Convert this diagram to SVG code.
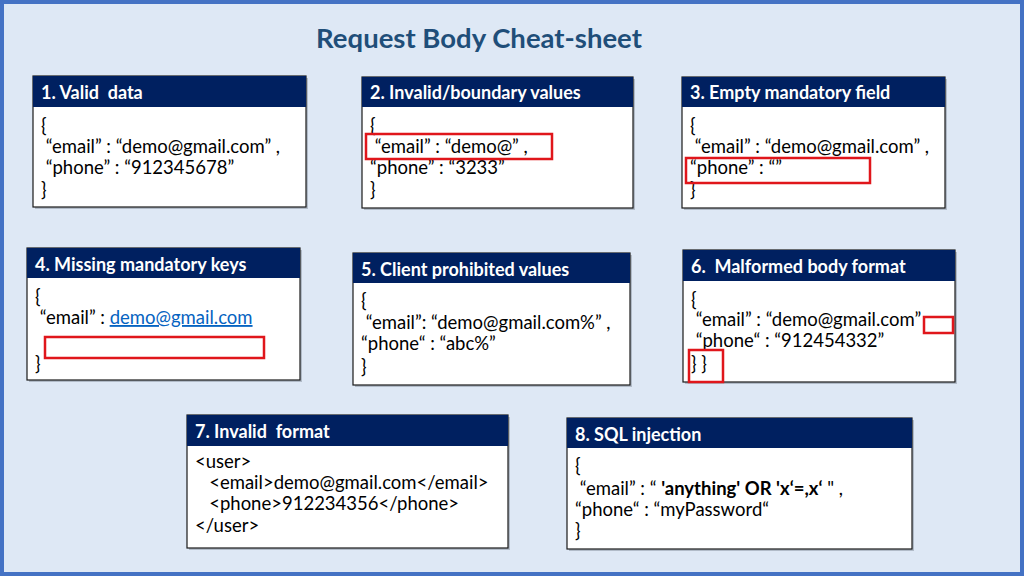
<svg xmlns="http://www.w3.org/2000/svg" width="1024" height="576" viewBox="0 0 1024 576">
<style>
.bg{fill:#DEE8F5;stroke:#4472C4;stroke-width:4}
.shadow{fill:#8C96A3;opacity:0.55}
.body{fill:#FFFFFF;stroke:#1A1A1A;stroke-width:1.2}
.hdr{fill:#002060}
.ht{font-family:Lato,"Open Sans",sans-serif;font-weight:bold;font-size:18px;fill:#FFFFFF;white-space:pre}
.t{font-family:Lato,"Open Sans",sans-serif;font-size:18.5px;fill:#000000;white-space:pre}
.red{fill:none;stroke:#E0161B;stroke-width:2.5}
.title{font-family:Lato,"Open Sans",sans-serif;font-weight:bold;font-size:27.5px;fill:#1F4E79}
.link{fill:#0563C1;text-decoration:underline}
</style>
<rect class="bg" x="2" y="2" width="1020" height="572"/>
<text class="title" x="479" y="48" text-anchor="middle">Request Body Cheat-sheet</text>

<g id="box1">
<rect class="shadow" x="35" y="78" width="273" height="131"/>
<rect class="body" x="33" y="76" width="273" height="131"/>
<rect class="hdr" x="33" y="76" width="273" height="31"/>
<text class="ht" x="41" y="99" xml:space="preserve">1. Valid  data</text>
<text class="t" x="41" y="132">{</text>
<text class="t" x="41" y="153" xml:space="preserve"> “email” : “demo@gmail.com” ,</text>
<text class="t" x="41" y="174" xml:space="preserve"> “phone” : “912345678”</text>
<text class="t" x="41" y="196">}</text>
</g>

<g id="box2">
<rect class="shadow" x="364" y="79" width="271" height="131"/>
<rect class="body" x="362" y="77" width="271" height="131"/>
<rect class="hdr" x="362" y="77" width="271" height="30"/>
<text class="ht" x="370" y="99">2. Invalid/boundary values</text>
<text class="t" x="370" y="132">{</text>
<text class="t" x="370" y="153" xml:space="preserve"> “email” : “demo@” ,</text>
<text class="t" x="370" y="174">“phone” : “3233”</text>
<text class="t" x="370" y="196">}</text>
<rect class="red" x="366" y="134" width="186" height="25"/>
</g>

<g id="box3">
<rect class="shadow" x="684" y="79" width="263" height="131"/>
<rect class="body" x="682" y="77" width="263" height="131"/>
<rect class="hdr" x="682" y="77" width="263" height="30"/>
<text class="ht" x="690" y="99">3. Empty mandatory field</text>
<text class="t" x="690" y="132">{</text>
<text class="t" x="690" y="153" xml:space="preserve"> “email” : “demo@gmail.com” ,</text>
<text class="t" x="690" y="174">“phone” : “”</text>
<text class="t" x="690" y="196">}</text>
<rect class="red" x="686" y="158" width="184" height="25"/>
</g>

<g id="box4">
<rect class="shadow" x="29" y="250" width="273" height="132"/>
<rect class="body" x="27" y="248" width="273" height="132"/>
<rect class="hdr" x="27" y="248" width="273" height="30"/>
<text class="ht" x="35" y="271">4. Missing mandatory keys</text>
<text class="t" x="35" y="303">{</text>
<text class="t" x="35" y="324" xml:space="preserve"> “email” : <tspan class="link">demo@gmail.com</tspan></text>
<text class="t" x="35" y="370">}</text>
<rect class="red" x="45" y="337" width="219" height="21"/>
</g>

<g id="box5">
<rect class="shadow" x="355" y="255" width="277" height="132"/>
<rect class="body" x="353" y="253" width="277" height="132"/>
<rect class="hdr" x="353" y="253" width="277" height="30"/>
<text class="ht" x="361" y="276">5. Client prohibited values</text>
<text class="t" x="361" y="307">{</text>
<text class="t" x="361" y="329" xml:space="preserve"> “email”: “demo@gmail.com%” ,</text>
<text class="t" x="361" y="350">“phone“ : “abc%”</text>
<text class="t" x="361" y="373">}</text>
</g>

<g id="box6">
<rect class="shadow" x="685" y="252" width="272" height="132"/>
<rect class="body" x="683" y="250" width="272" height="132"/>
<rect class="hdr" x="683" y="250" width="272" height="31"/>
<text class="ht" x="691" y="273" xml:space="preserve">6.  Malformed body format</text>
<text class="t" x="691" y="306">{</text>
<text class="t" x="691" y="326" xml:space="preserve"> “email” : “demo@gmail.com”</text>
<text class="t" x="691" y="347" xml:space="preserve"> “phone“ : “912454332”</text>
<text class="t" x="691" y="370">} }</text>
<rect class="red" x="924" y="317" width="29" height="16"/>
<rect class="red" x="689" y="350" width="34" height="32"/>
</g>

<g id="box7">
<rect class="shadow" x="189" y="417" width="321" height="133"/>
<rect class="body" x="187" y="415" width="321" height="133"/>
<rect class="hdr" x="187" y="415" width="321" height="31"/>
<text class="ht" x="195" y="438" xml:space="preserve">7. Invalid  format</text>
<text class="t" x="195" y="468">&lt;user&gt;</text>
<text class="t" x="195" y="489" xml:space="preserve">   &lt;email&gt;demo@gmail.com&lt;/email&gt;</text>
<text class="t" x="195" y="510" xml:space="preserve">   &lt;phone&gt;912234356&lt;/phone&gt;</text>
<text class="t" x="195" y="532">&lt;/user&gt;</text>
</g>

<g id="box8">
<rect class="shadow" x="569" y="420" width="345" height="131"/>
<rect class="body" x="567" y="418" width="345" height="131"/>
<rect class="hdr" x="567" y="418" width="345" height="30"/>
<text class="ht" x="575" y="441">8. SQL injection</text>
<text class="t" x="575" y="472">{</text>
<text class="t" x="575" y="495" xml:space="preserve"> “email” : “ <tspan font-weight="bold">'anything' OR 'x‘=,x‘</tspan> " ,</text>
<text class="t" x="575" y="516">“phone“ : “myPassword“</text>
<text class="t" x="575" y="537">}</text>
</g>

<g id="connectors"></g>
</svg>
